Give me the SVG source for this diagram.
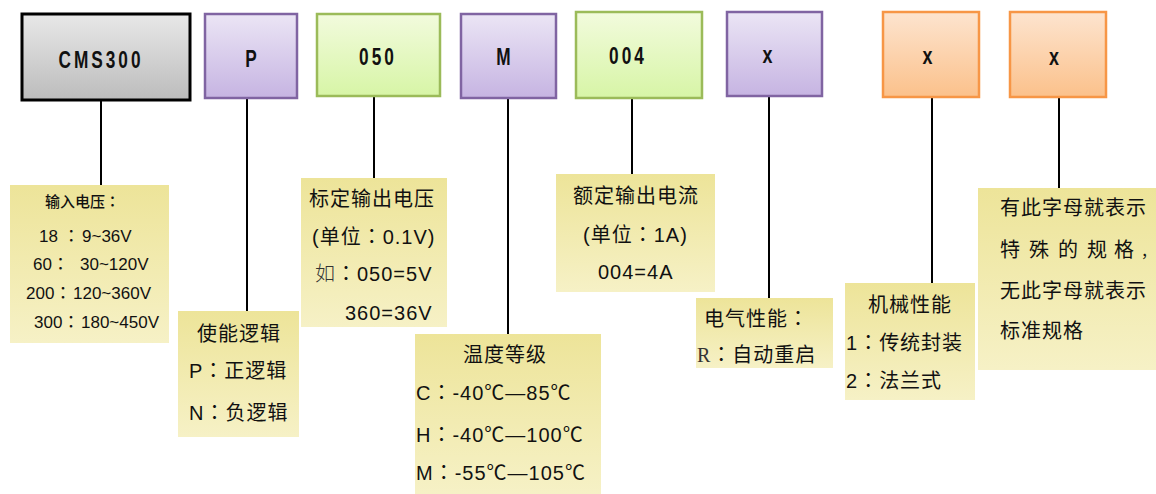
<svg xmlns="http://www.w3.org/2000/svg" width="1156" height="494" viewBox="0 0 1156 494">
<defs>
<linearGradient id="gGray" x1="0" y1="0" x2="0" y2="1"><stop offset="0" stop-color="#e8e8e8"/><stop offset="1" stop-color="#bcbcbc"/></linearGradient>
<linearGradient id="gPurple" x1="0" y1="0" x2="0" y2="1"><stop offset="0" stop-color="#ebe5f5"/><stop offset="1" stop-color="#c6b4e2"/></linearGradient>
<linearGradient id="gGreen" x1="0" y1="0" x2="0" y2="1"><stop offset="0" stop-color="#f2fbdd"/><stop offset="1" stop-color="#d7f5a6"/></linearGradient>
<linearGradient id="gOrange" x1="0" y1="0" x2="0" y2="1"><stop offset="0" stop-color="#fde4cf"/><stop offset="1" stop-color="#fbc18b"/></linearGradient>
<linearGradient id="gYellow" x1="0" y1="0" x2="0" y2="1"><stop offset="0" stop-color="#ede499"/><stop offset="1" stop-color="#f6f1c6"/></linearGradient>
</defs>
<style>
.gray{fill:url(#gGray);stroke:#000;stroke-width:3}
.purple{fill:url(#gPurple);stroke:#8064a2;stroke-width:2.5}
.green{fill:url(#gGreen);stroke:#9bbb59;stroke-width:2.5}
.orange{fill:url(#gOrange);stroke:#f79646;stroke-width:2.5}
.note{fill:url(#gYellow)}
.code{font-family:"Liberation Sans",Arial,sans-serif;font-weight:bold;font-size:23px;fill:#111;text-anchor:middle}
.t{font-family:"Liberation Sans","Noto Sans CJK SC",sans-serif;font-size:20px;fill:#111;letter-spacing:1px}
.s{font-family:"Liberation Sans","Noto Sans CJK SC",sans-serif;font-size:17px;fill:#111}
.h{font-family:"Liberation Sans","Noto Sans CJK SC",sans-serif;font-size:15px;fill:#111;font-weight:500}
.col{font-family:"Noto Sans CJK JP","Noto Sans CJK TC",sans-serif}
.serif{font-family:"Liberation Serif","Noto Sans CJK SC",serif;font-weight:300;fill:#333}
.conn line{stroke:#000;stroke-width:2}
</style>
<g id="connectors" class="conn">
<line x1="101" y1="100" x2="101" y2="185"/>
<line x1="247" y1="98" x2="247" y2="311"/>
<line x1="374" y1="96" x2="374" y2="178"/>
<line x1="508" y1="98" x2="508" y2="334"/>
<line x1="632" y1="98" x2="632" y2="174"/>
<line x1="769" y1="96" x2="769" y2="298"/>
<line x1="932" y1="97" x2="932" y2="283"/>
<line x1="1059" y1="97" x2="1059" y2="188"/>
</g>
<g id="code-cms300">
<rect class="gray" x="22" y="14" width="168" height="86"/>
<text class="code" transform="translate(101,68) scale(0.75,1)" letter-spacing="4">CMS300</text>
</g>
<g id="code-p">
<rect class="purple" x="205" y="14" width="92" height="84"/>
<text class="code" transform="translate(251,66.5) scale(0.75,1)">P</text>
</g>
<g id="code-050">
<rect class="green" x="317" y="14" width="123" height="82"/>
<text class="code" transform="translate(378,65) scale(0.75,1)" letter-spacing="4">050</text>
</g>
<g id="code-m">
<rect class="purple" x="461" y="14" width="95" height="84"/>
<text class="code" transform="translate(503.5,65) scale(0.75,1)">M</text>
</g>
<g id="code-004">
<rect class="green" x="576" y="12" width="126" height="86"/>
<text class="code" transform="translate(628,64) scale(0.75,1)" letter-spacing="4">004</text>
</g>
<g id="code-x1">
<rect class="purple" x="727" y="12" width="95" height="84"/>
<text class="code" transform="translate(767.5,63) scale(0.78,1)">x</text>
</g>
<g id="code-x2">
<rect class="orange" x="883" y="12" width="96" height="85"/>
<text class="code" transform="translate(927.5,63.5) scale(0.78,1)">x</text>
</g>
<g id="code-x3">
<rect class="orange" x="1010" y="12" width="96" height="85"/>
<text class="code" transform="translate(1054,65) scale(0.78,1)">x</text>
</g>
<g id="note-input">
<rect class="note" x="10" y="185" width="159" height="158"/>
<text class="h" x="45" y="207">输入电压<tspan class="col">：</tspan></text>
<text class="s" y="242"><tspan x="39">18 </tspan><tspan class="col">：</tspan><tspan x="82">9~36V</tspan></text>
<text class="s" y="270"><tspan x="33">60</tspan><tspan class="col">：</tspan><tspan x="80">30~120V</tspan></text>
<text class="s" y="299"><tspan x="26">200</tspan><tspan class="col">：</tspan><tspan x="73">120~360V</tspan></text>
<text class="s" y="328"><tspan x="34">300</tspan><tspan class="col">：</tspan><tspan x="81">180~450V</tspan></text>
</g>
<g id="note-enable">
<rect class="note" x="178" y="311" width="121" height="126"/>
<text class="t" x="197" y="341">使能逻辑</text>
<text class="t" x="189" y="378">P<tspan class="col">：</tspan>正逻辑</text>
<text class="t" x="189" y="420">N<tspan class="col">：</tspan>负逻辑</text>
</g>
<g id="note-vout">
<rect class="note" x="301" y="178" width="146" height="149"/>
<text class="t" x="309" y="206" letter-spacing="1.5">标定输出电压</text>
<text class="t" x="312" y="244">(单位<tspan class="col">：</tspan>0.1V)</text>
<text class="t" x="315" y="281"><tspan class="serif">如</tspan><tspan class="col">：</tspan>050=5V</text>
<text class="t" x="345" y="320">360=36V</text>
</g>
<g id="note-temp">
<rect class="note" x="415" y="334" width="186" height="160"/>
<text class="t" x="463" y="362">温度等级</text>
<text class="t" x="416" y="400">C<tspan class="col">：</tspan>-40℃—85℃</text>
<text class="t" x="416" y="442">H<tspan class="col">：</tspan>-40℃—100℃</text>
<text class="t" x="416" y="480">M<tspan class="col">：</tspan>-55℃—105℃</text>
</g>
<g id="note-iout">
<rect class="note" x="556" y="174" width="159" height="118"/>
<text class="t" x="573" y="203">额定输出电流</text>
<text class="t" x="583" y="242">(单位<tspan class="col">：</tspan>1A)</text>
<text class="t" x="598" y="279">004=4A</text>
</g>
<g id="note-elec">
<rect class="note" x="696" y="298" width="137" height="70"/>
<text class="t" x="704" y="326">电气性能<tspan class="col">：</tspan></text>
<text class="t" x="697" y="362"><tspan class="serif">R</tspan><tspan class="col">：</tspan>自动重启</text>
</g>
<g id="note-mech">
<rect class="note" x="845" y="283" width="130" height="117"/>
<text class="t" x="868" y="312">机械性能</text>
<text class="t" x="846" y="350">1<tspan class="col">：</tspan>传统封装</text>
<text class="t" x="846" y="388">2<tspan class="col">：</tspan>法兰式</text>
</g>
<g id="note-special">
<rect class="note" x="978" y="188" width="179" height="182"/>
<text class="t" x="1000" y="215" letter-spacing="1.3">有此字母就表示</text>
<text class="t" y="257" letter-spacing="0"><tspan x="1000">特 </tspan><tspan x="1029">殊 </tspan><tspan x="1058">的 </tspan><tspan x="1087">规 </tspan><tspan x="1114">格 </tspan><tspan x="1141" font-size="15">，</tspan></text>
<text class="t" x="1000" y="298" letter-spacing="1.3">无此字母就表示</text>
<text class="t" x="1000" y="338" letter-spacing="1.3">标准规格</text>
</g>
</svg>
